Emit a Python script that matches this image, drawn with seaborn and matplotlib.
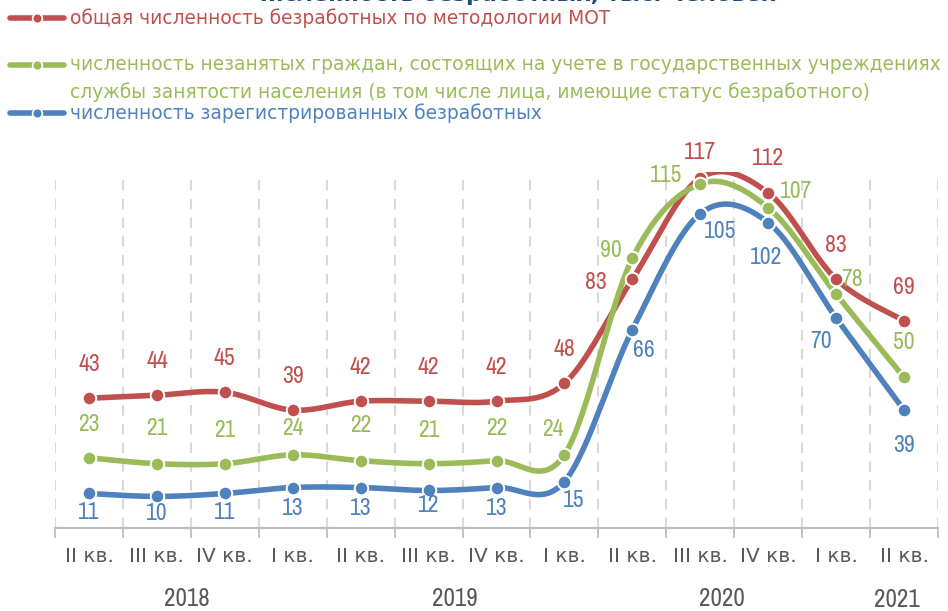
import numpy as np
import pandas as pd
import matplotlib
matplotlib.use("Agg")
import matplotlib.pyplot as plt
import seaborn as sns
from matplotlib.lines import Line2D
from matplotlib import font_manager as fm
from matplotlib.ft2font import FT2Font

# ---------------- data ----------------
quarters = ["II кв.", "III кв.", "IV кв.", "I кв.", "II кв.", "III кв.", "IV кв.",
            "I кв.", "II кв.", "III кв.", "IV кв.", "I кв.", "II кв."]
years = ["2018", "2019", "2020", "2021"]
red_vals = [43, 44, 45, 39, 42, 42, 42, 48, 83, 117, 112, 83, 69]
green_vals = [23, 21, 21, 24, 22, 21, 22, 24, 90, 115, 107, 78, 50]
blue_vals = [11, 10, 11, 13, 13, 12, 13, 15, 66, 105, 102, 70, 39]
series_names = [
    "общая численность безработных по методологии МОТ",
    "численность незанятых граждан, состоящих на учете в государственных учреждениях\n"
    "службы занятости населения (в том числе лица, имеющие статус безработного)",
    "численность зарегистрированных безработных",
]
title_text = "Численность безработных, тыс. человек"

# ---------------- style ----------------
RED, GREEN, BLUE = "#C0504D", "#9BBB59", "#4F81BD"
GRID = "#D9D9D9"
AXC = "#BFBFBF"
LBL = "#595959"
sns.set_theme(style="white")
plt.rcParams["font.family"] = ["DejaVu Sans"]


def has_chars(fname, chars):
    try:
        cmap = FT2Font(fname).get_charmap()
    except Exception:
        return False
    return all(ord(c) in cmap for c in chars)


def narrow_font(chars):
    cands = []
    for f in fm.fontManager.ttflist:
        nm = f.name.lower()
        fn = f.fname.lower()
        if any(k in fn for k in ("bold", "italic", "oblique", "light", "thin",
                                 "medium", "black", "semi", "extra")):
            continue
        score = None
        if "narrow" in nm or "narrow" in fn:
            score = 0
        elif "condensed" in nm or "condensed" in fn or str(f.stretch) == "condensed":
            score = 1 if "dejavu" not in fn else 2
        if score is not None and has_chars(f.fname, chars):
            cands.append((score, f.fname))
    cands.sort()
    if cands:
        return fm.FontProperties(fname=cands[0][1])
    return fm.FontProperties(family="DejaVu Sans", stretch="condensed")


NF_DIG = narrow_font("0123456789")

# label offsets in pixels (dx, dy)
red_off = [(0, 34)] * 8 + [(-36, -3), (0, 25), (0, 34), (0, 34), (0, 33)]
green_off = [(0, 33), (0, 35), (0, 33), (0, 26), (0, 35), (0, 33), (0, 32),
             (-12, 25), (-21, 8), (-34, 8), (28, 16), (16, 15), (0, 35)]
blue_off = [(0, -19), (0, -17), (0, -19), (0, -21), (0, -21), (0, -15), (0, -21),
            (9, -19), (12, -21), (20, -18), (-2, -35), (-15, -24), (0, -35)]


def catmull_rom(x, y, n=30):
    x = np.asarray(x, float)
    y = np.asarray(y, float)
    px = np.concatenate([[x[0]], x, [x[-1]]])
    py = np.concatenate([[y[0]], y, [y[-1]]])
    xs, ys = [], []
    t = np.linspace(0, 1, n, endpoint=False)
    for i in range(1, len(px) - 2):
        p0, p1, p2, p3 = (np.array([px[j], py[j]]) for j in (i - 1, i, i + 1, i + 2))
        c1 = p1 + (p2 - p0) / 6.0
        c2 = p2 - (p3 - p1) / 6.0
        b = ((1 - t) ** 3)[:, None] * p1 + (3 * (1 - t) ** 2 * t)[:, None] * c1 + \
            (3 * (1 - t) * t ** 2)[:, None] * c2 + (t ** 3)[:, None] * p2
        xs.append(b[:, 0]); ys.append(b[:, 1])
    xs.append([x[-1]]); ys.append([y[-1]])
    return np.concatenate(xs), np.concatenate(ys)


W, H = 948, 611
fig = plt.figure(figsize=(W / 100, H / 100), dpi=100)
ax = fig.add_axes([55 / W, 1 - 528 / H, (938 - 55) / W, (528 - 172) / H])

x = np.arange(len(quarters))
for vals, col, offs in [(red_vals, RED, red_off), (green_vals, GREEN, green_off),
                        (blue_vals, BLUE, blue_off)]:
    sx, sy = catmull_rom(x, vals)
    sns.lineplot(x=sx, y=sy, sort=False, estimator=None, color=col, lw=4.0,
                 ax=ax, legend=False, zorder=3, solid_capstyle="round")
    sns.scatterplot(x=x, y=vals, color=col, s=95, edgecolor="white",
                    linewidth=1.4, ax=ax, legend=False, zorder=4)
    for xi, v, (dx, dy) in zip(x, vals, offs):
        ax.annotate(str(v), (xi, v), xytext=(dx, dy), textcoords="offset pixels",
                    ha="center", va="center", color=col, fontproperties=NF_DIG,
                    fontsize=17, zorder=5, annotation_clip=False)

ax.set_xlim(-0.5, len(quarters) - 0.5)
ax.set_ylim(-0.6, 119)
ax.set_yticks([])
ax.set_xticks(x)
ax.set_xticklabels(quarters, fontsize=14.5, color=LBL)
ax.set_xticks(np.arange(-0.5, len(quarters)), minor=True)
ax.tick_params(axis="x", which="major", length=0, pad=14)
ax.tick_params(axis="x", which="minor", length=7, width=1.3, color=AXC,
               direction="out", bottom=True)
for b in np.arange(-0.5, len(quarters)):
    ax.axvline(b, color=GRID, lw=1.5, ls=(0, (5, 4)), zorder=1)
for s in ["left", "right", "top"]:
    ax.spines[s].set_visible(False)
ax.spines["bottom"].set_color(AXC)
ax.spines["bottom"].set_linewidth(1.6)
ax.set_xlabel("")
ax.set_ylabel("")

# year labels (multi-level category axis)
year_pos = [(1.44, -0.197), (5.38, -0.197), (9.32, -0.197), (11.9, -0.2)]
for yr, (xp, yp) in zip(years, year_pos):
    ax.text(xp, yp, yr, transform=ax.get_xaxis_transform(), ha="center",
            va="center", fontproperties=NF_DIG, fontsize=18, color=LBL)

# legend (manual)
leg_rows = [(RED, 18, [18]), (GREEN, 65, [65, 92]), (BLUE, 113, [113])]
for (col, yl, ylines), name in zip(leg_rows, series_names):
    yf = 1 - yl / H
    fig.add_artist(Line2D([10 / W, 64 / W], [yf, yf], color=col, lw=4.0,
                          transform=fig.transFigure, solid_capstyle="round"))
    fig.add_artist(Line2D([37 / W], [yf], color=col, marker="o", markersize=7,
                          markeredgecolor="white", markeredgewidth=1.2,
                          transform=fig.transFigure))
    for line, ylt in zip(name.split("\n"), ylines):
        fig.text(70 / W, 1 - ylt / H, line, color=col, fontsize=13.4,
                 ha="left", va="center")

# clipped title at the very top (as in the reference)
fig.text(250 / W, 1 - 1 / H, title_text, color="#1F497D", fontsize=16,
         fontweight="bold", ha="left", va="baseline")

fig.savefig("out.png", dpi=100)
